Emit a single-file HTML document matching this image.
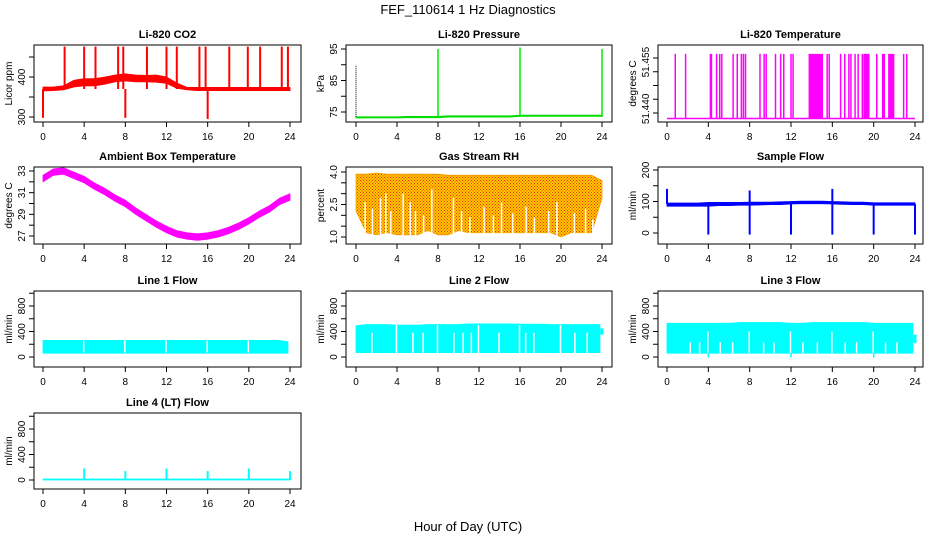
<!DOCTYPE html>
<html><head><meta charset="utf-8">
<style>
body{margin:0;background:#fff;}
svg{display:block;font-family:"Liberation Sans",Arial,sans-serif;}
.t{font-size:11px;font-weight:bold;text-anchor:middle;}
.a{font-size:10px;text-anchor:middle;}
</style></head>
<body>
<svg id="chart" width="936" height="540" viewBox="0 0 936 540" xmlns="http://www.w3.org/2000/svg">
<defs>
<pattern id="rhpat" width="3" height="3" patternUnits="userSpaceOnUse">
<rect width="3" height="3" fill="#ffc800"/><rect width="1" height="1" fill="#e83000"/><rect x="1.5" y="1.5" width="1" height="1" fill="#e83000"/>
</pattern>
</defs>
<text x="468" y="14" font-size="13" text-anchor="middle">FEF_110614  1 Hz Diagnostics</text>
<text x="468" y="531" font-size="13" text-anchor="middle">Hour of Day (UTC)</text>
</svg>
<script>
// shared x data
const hours = [0,1,2,3,4,5,6,7,8,9,10,11,12,13,14,15,16,17,18,19,20,21,22,23,24];
const xTicks = [0,4,8,12,16,20,24];
// CO2
const co2Lo = [365,366,368,375,378,378,382,388,390,388,388,387,384,372,368,366,366,366,366,366,366,366,366,366,366];
const co2Hi = [375,375,378,392,396,396,400,405,408,405,404,405,400,385,374,374,374,374,374,374,374,374,374,374,374];
const co2SpikeHours = [2.1,4,5.1,7.3,7.8,10.1,12,13,15.2,15.8,18.1,19.9,21.1,23.2,23.8,0,8,16];
const co2SpikeVals = [476,476,476,476,476,476,476,476,476,476,476,476,476,476,476,298,298,295];
// Pressure
const presBase = [73.5,73.5,73.5,73.5,73.5,73.6,73.6,73.6,73.6,73.8,73.8,73.8,73.8,73.8,73.8,73.8,74,74,74,74,74,74,74,74,74];
const presSpikeHours = [0,8,16,24];
const presSpikeVals = [90,95,95.5,95];
// Li-820 temperature
const ltBase = 51.438;
const ltSpikeHours = [0.8,1.8,4.2,4.3,4.8,5.1,5.3,6.4,6.8,7.2,7.4,7.6,9.0,9.4,9.6,10.5,11.0,11.3,12.0,12.2,15.5,15.7,16.8,17.2,17.6,17.8,18.2,18.5,18.9,19.2,20.3,22.9,23.2];
const ltBlockStart = [13.7,19.0,20.8,21.4];
const ltBlockEnd = [15.1,19.6,21.1,22.0];
const ltTop = 51.4615;
// Ambient temperature
const ambMid = [32.3,32.9,33.0,32.6,32.2,31.6,31.1,30.5,30.0,29.3,28.7,28.1,27.6,27.2,27.0,26.9,27.0,27.2,27.5,27.9,28.4,29.0,29.5,30.2,30.6];
const ambHalf = [0.3,0.3,0.3,0.3,0.3,0.3,0.3,0.3,0.3,0.3,0.3,0.3,0.3,0.3,0.3,0.3,0.3,0.3,0.3,0.3,0.3,0.3,0.3,0.3,0.3];
// RH
const rhHi = [3.9,3.9,3.95,3.9,3.9,3.9,3.9,3.9,3.9,3.85,3.85,3.85,3.85,3.85,3.85,3.85,3.85,3.85,3.85,3.85,3.85,3.85,3.85,3.85,3.6];
const rhLo = [2.2,1.2,1.1,1.2,1.1,1.1,1.1,1.3,1.1,1.1,1.3,1.2,1.2,1.2,1.2,1.2,1.2,1.2,1.2,1.2,1.0,1.2,1.2,1.2,2.8];
const rhGapHours = [0.9,1.6,2.4,2.9,3.4,4.6,5.3,5.8,6.6,7.4,9.5,10.3,11.1,12.5,13.4,14.2,15.3,16.6,17.4,18.8,19.6,21.3,22.4,23.1];
const rhGapTops = [2.6,2.3,2.8,3.0,2.2,3.0,2.6,2.2,2.0,3.2,2.8,2.2,1.9,2.4,2.0,2.6,2.1,2.4,1.9,2.2,2.6,2.1,2.3,1.8];
// Sample flow
const sfLo = [85,85,85,85,85,87,87,88,88,89,90,90,92,93,93,93,92,91,90,90,88,88,88,88,88];
const sfHi = [95,95,95,95,97,97,97,97,98,98,98,99,100,101,101,101,100,99,98,98,96,96,96,96,96];
const sfSpikeHours = [0,4,8,12,16,20,24,8,16];
const sfSpikeVals = [140,-5,-5,-5,-5,-5,-5,135,140];
// Line flows
const l1Lo = [60,60,60,60,60,60,60,60,60,60,60,60,60,60,60,60,60,60,60,60,60,60,60,60,60];
const l1Hi = [260,260,260,260,260,260,260,260,260,260,260,260,260,260,260,260,260,260,260,260,260,260,260,260,240];
const l2Lo = [70,70,70,70,70,70,70,70,70,70,70,70,70,70,70,70,70,70,70,70,70,70,70,70,70];
const l2Hi = [490,510,510,510,500,500,500,510,510,510,510,520,520,520,520,520,515,515,515,510,510,510,510,510,510];
const l3Lo = [60,60,60,60,60,60,60,60,60,60,60,60,60,60,60,60,60,60,60,60,60,60,60,60,60];
const l3Hi = [530,530,530,530,530,530,530,540,540,540,540,540,530,530,540,540,540,540,540,540,530,530,530,530,530];
const l3DipHours = [4,12,20];
const l3DipVals = [-10,-10,-10];
const flowGapHours = [4,8,12,16,20];
const l2GapHours = [1.6,5.6,6.6,9.6,10.5,11.3,14.0,16.6,17.4,21.4,22.6];
const l3GapHours = [2.3,3.2,5.2,6.4,9.4,10.4,13.2,14.6,17.3,18.4,21.2,22.3];
const l4Base = [15,15,15,15,15,15,15,15,15,15,15,15,15,15,15,15,15,15,15,15,15,15,15,15,15];
const l4SpikeHours = [4,8,12,16,20,24];
const l4SpikeVals = [180,140,180,140,180,140];

const NS = "http://www.w3.org/2000/svg";
const svg = document.getElementById('chart');
const cols = [{L:34,R:301,x0:43,x24:290},{L:346,R:612,x0:356,x24:602},{L:658,R:923,x0:667,x24:915}];
const rows = [{T:45,B:122},{T:167,B:244},{T:291,B:367},{T:413,B:489}];

function mk(tag, attrs, parent){
  const e = document.createElementNS(NS, tag);
  for (const k in attrs) e.setAttribute(k, attrs[k]);
  (parent||svg).appendChild(e);
  return e;
}

function panel(c, r, title, ylab, v1, y1, v2, y2, ticks, labels, name){
  const col = cols[c], row = rows[r];
  const g = mk('g', {});
  
  
  const sx = h => col.x0 + (col.x24 - col.x0) * h / 24;
  const sy = v => y1 + (y2 - y1) * (v - v1) / (v2 - v1);
  const box = mk('rect', {x:col.L, y:row.T, width:col.R-col.L, height:row.B-row.T, fill:'none', stroke:'#000', 'stroke-width':1}, g);
  
  
  const tt = mk('text', {x:(col.L+col.R)/2, y:row.T-7, class:'t'}, g);
  
  
  tt.textContent = title;
  xTicks.forEach(h => {
    const x = sx(h);
    const tk = mk('line', {x1:x, x2:x, y1:row.B, y2:row.B+5, stroke:'#000'}, g);
    
    
    const tl = mk('text', {x:x, y:row.B+18, class:'a'}, g);
    
    
    tl.textContent = h;
  });
  ticks.forEach(v => {
    const y = sy(v);
    const tk = mk('line', {x1:col.L-5, x2:col.L, y1:y, y2:y, stroke:'#000'}, g);
    
    
  });
  labels.forEach(l => {
    const y = sy(l.v);
    const tl = mk('text', {x:0, y:0, class:'a', transform:'translate('+(col.L-9)+','+y+') rotate(-90)'}, g);
    
    
    tl.textContent = l.t;
  });
  const yl = mk('text', {x:0, y:0, class:'a', transform:'translate('+(col.L-22)+','+((row.T+row.B)/2)+') rotate(-90)'}, g);
  
  
  yl.textContent = ylab;
  return {g, sx, sy, row, col};
}

function band(p, xs, lo, hi, fill, name, xmax){
  let d = '';
  xs.forEach((h,i) => { d += (i?'L':'M') + p.sx(Math.min(h,xmax)) + ' ' + p.sy(hi[i]) + ' '; });
  for (let i = xs.length-1; i >= 0; i--) d += 'L' + p.sx(Math.min(xs[i],xmax)) + ' ' + p.sy(lo[i]) + ' ';
  const e = mk('path', {d:d+'Z', fill:fill, stroke:fill==='url(#rhpat)'?'#f0a000':fill, 'stroke-width':0.8}, p.g);
  
  
  return e;
}

function spikes(p, hs, vs, base, color, name, w, dash){
  hs.forEach((h,i) => {
    const attrs = {x1:p.sx(h), x2:p.sx(h), y1:p.sy(base), y2:p.sy(vs[i]), stroke:color, 'stroke-width':w||2};
    if (dash) attrs['stroke-dasharray'] = dash;
    const e = mk('line', attrs, p.g);
    
    
  });
}

function gaps(p, hs, lo, hi, name){
  hs.forEach(h => {
    const e = mk('line', {x1:p.sx(h)-0.5, x2:p.sx(h)-0.5, y1:p.sy(hi), y2:p.sy(lo), stroke:'#fff', 'stroke-width':1.5}, p.g);
    
    
  });
}

// CO2
let p = panel(0,0,'Li-820 CO2','Licor ppm',300,117,400,77,[300,350,400,450],[{v:300,t:'300'},{v:400,t:'400'}],'co2');
band(p, hours, co2Lo, co2Hi, '#ff0000', 'co2-series', 24);
spikes(p, co2SpikeHours, co2SpikeVals, 370, '#ff0000', 'co2-spike', 2);

// Pressure
p = panel(1,0,'Li-820 Pressure','kPa',75,112,95,49,[75,80,85,90,95],[{v:75,t:'75'},{v:85,t:'85'},{v:95,t:'95'}],'pressure');
band(p, hours, presBase.map(v=>v-0.4), presBase, '#00dd00', 'pressure-series', 24);
spikes(p, presSpikeHours, presSpikeVals, 73.5, '#000', 'pressure-spike-outline', 1, '1,1');
spikes(p, presSpikeHours.slice(1), presSpikeVals.slice(1), 73.5, '#00ee00', 'pressure-spike', 1.5);

// Li-820 Temperature
p = panel(2,0,'Li-820 Temperature','degrees C',51.440,113,51.460,58,[51.440,51.445,51.450,51.455,51.460],[{v:51.4415,t:'51.440'},{v:51.4585,t:'51.455'}],'li820-temp');
{ const e = mk('line',{x1:p.sx(0),x2:p.sx(24),y1:p.sy(ltBase),y2:p.sy(ltBase),stroke:'#ff00ff','stroke-width':1.5},p.g);
  
   }
spikes(p, ltSpikeHours, ltSpikeHours.map(()=>ltTop), ltBase, '#ff00ff', 'li820-temp-spike', 1.5);
ltBlockStart.forEach((s,i) => {
  const e = mk('rect',{x:p.sx(s), y:p.sy(ltTop), width:p.sx(ltBlockEnd[i])-p.sx(s), height:p.sy(ltBase)-p.sy(ltTop), fill:'#ff00ff'}, p.g);
  
  
});

// Ambient
p = panel(0,1,'Ambient Box Temperature','degrees C',27,236,33,171,[27,28,29,30,31,32,33],[{v:27,t:'27'},{v:29,t:'29'},{v:31,t:'31'},{v:33,t:'33'}],'ambient');
band(p, hours, ambMid.map((v,i)=>v-ambHalf[i]), ambMid.map((v,i)=>v+ambHalf[i]), '#ff00ff', 'ambient-series', 24);

// RH
p = panel(1,1,'Gas Stream RH','percent',1.0,237,4.0,172,[1,1.5,2,2.5,3,3.5,4],[{v:1,t:'1.0'},{v:2.5,t:'2.5'},{v:4,t:'4.0'}],'rh');
band(p, hours, rhLo, rhHi, 'url(#rhpat)', 'rh-series', 24);
rhGapHours.forEach((h,i) => {
  const e = mk('line',{x1:p.sx(h),x2:p.sx(h),y1:p.sy(0.9),y2:p.sy(rhGapTops[i]),stroke:'#fff','stroke-width':1.5},p.g);
  
  
});

// Sample flow
p = panel(2,1,'Sample Flow','ml/min',0,233,200,170,[0,50,100,150,200],[{v:0,t:'0'},{v:100,t:'100'},{v:200,t:'200'}],'sample-flow');
band(p, hours, sfLo, sfHi, '#0000ff', 'sample-flow-series', 24);
spikes(p, sfSpikeHours, sfSpikeVals, 92, '#0000ff', 'sample-flow-spike', 2);

// Line flows
const flowTicks = [0,200,400,600,800,1000];
const flowLabels = [{v:0,t:'0'},{v:400,t:'400'},{v:800,t:'800'}];
p = panel(0,2,'Line 1 Flow','ml/min',0,357,800,306,flowTicks,flowLabels,'line1');
band(p, hours, l1Lo, l1Hi, '#00ffff', 'line1-series', 23.8);
gaps(p, flowGapHours, 70, 260, 'line1-gap');
p = panel(1,2,'Line 2 Flow','ml/min',0,357,800,306,flowTicks,flowLabels,'line2');
band(p, hours, l2Lo, l2Hi, '#00ffff', 'line2-series', 23.8);
gaps(p, flowGapHours, 60, 500, 'line2-gap');
gaps(p, l2GapHours, 60, 380, 'line2-gap');
spikes(p, [24], [450], 350, '#00ffff', 'line2-end', 3);
p = panel(2,2,'Line 3 Flow','ml/min',0,357,800,306,flowTicks,flowLabels,'line3');
band(p, hours, l3Lo, l3Hi, '#00ffff', 'line3-series', 23.8);
gaps(p, flowGapHours, 60, 400, 'line3-gap');
gaps(p, l3GapHours, 60, 230, 'line3-gap');
spikes(p, l3DipHours, l3DipVals, 60, '#00ffff', 'line3-dip', 1.5);
spikes(p, [24], [350], 220, '#00ffff', 'line3-end', 3);
p = panel(0,3,'Line 4 (LT) Flow','ml/min',0,480,800,429,flowTicks,flowLabels,'line4');
band(p, hours, l4Base.map(()=>0), l4Base, '#00ffff', 'line4-series', 24);
spikes(p, l4SpikeHours, l4SpikeVals, 0, '#00ffff', 'line4-spike', 2);
</script>
</body></html>
